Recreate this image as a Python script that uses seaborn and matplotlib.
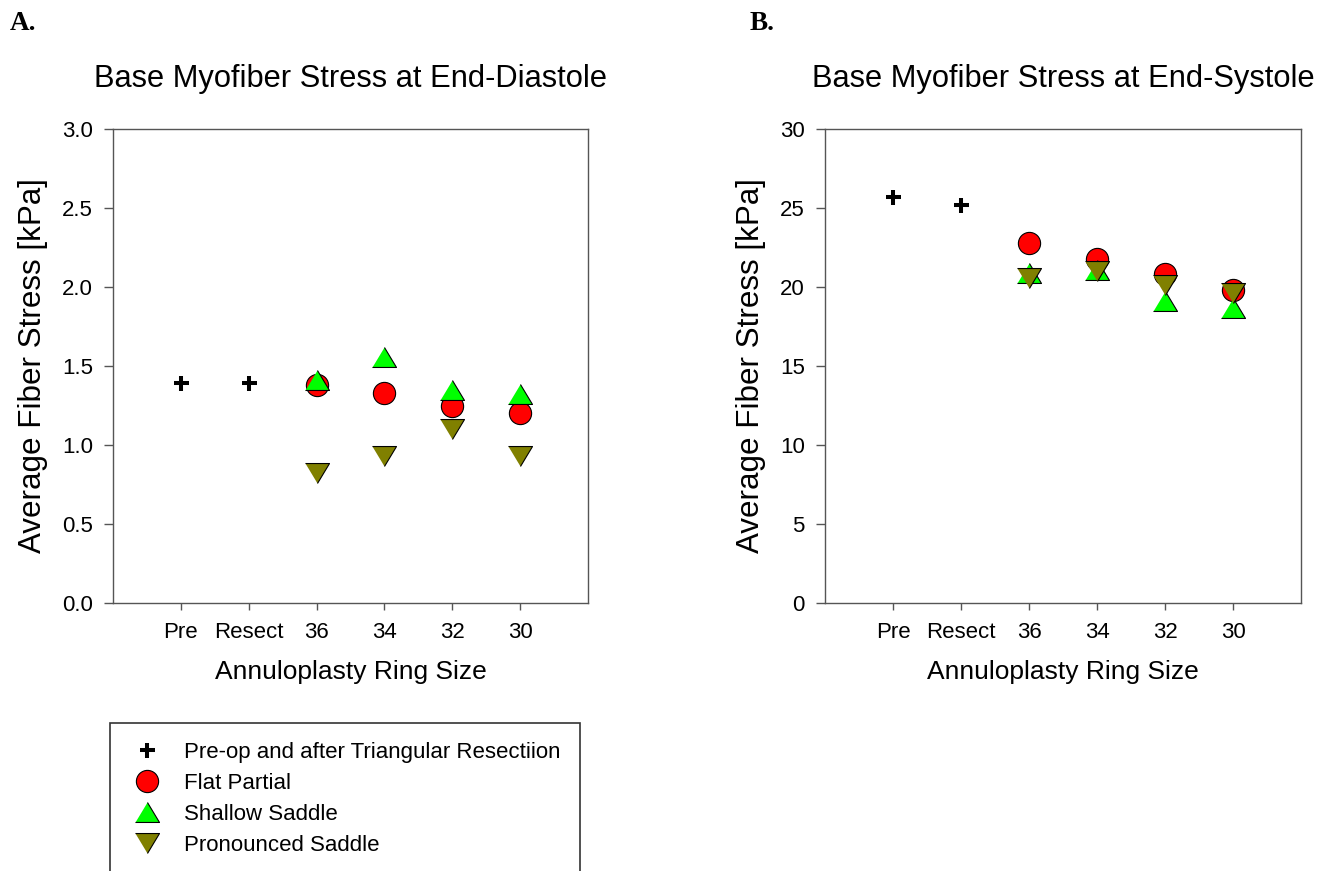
import matplotlib
matplotlib.use("Agg")
import matplotlib.pyplot as plt
import seaborn as sns
from matplotlib.lines import Line2D
from matplotlib.ticker import FormatStrFormatter

# Stages along the horizontal axis
categories = ["Pre", "Resect", "36", "34", "32", "30"]
baseline_cats = ["Pre", "Resect"]
ring_cats = ["36", "34", "32", "30"]

# Base myofiber stress at end-diastole [kPa]
ed_baseline = [1.39, 1.39]
ed_flat = [1.38, 1.33, 1.25, 1.20]
ed_shallow = [1.41, 1.56, 1.35, 1.32]
ed_pronounced = [0.82, 0.93, 1.10, 0.93]

# Base myofiber stress at end-systole [kPa]
es_baseline = [25.7, 25.2]
es_flat = [22.8, 21.8, 20.8, 19.8]
es_shallow = [20.9, 21.1, 19.1, 18.7]
es_pronounced = [20.6, 21.0, 20.1, 19.6]

series_labels = ["Pre-op and after Triangular Resectiion", "Flat Partial",
                 "Shallow Saddle", "Pronounced Saddle"]

sns.set_style("ticks")
plt.rcParams["font.family"] = ["Liberation Sans", "DejaVu Sans"]
plt.rcParams["text.color"] = "black"
plt.rcParams["axes.labelcolor"] = "black"
plt.rcParams["xtick.labelcolor"] = "black"
plt.rcParams["ytick.labelcolor"] = "black"

TRI_UP = [(-1, -0.83), (1, -0.83), (0, 0.83)]
TRI_DOWN = [(-1, 0.83), (1, 0.83), (0, -0.83)]
RED, GREEN, OLIVE = "#FF0000", "#00FF00", "#808000"
AXIS_GRAY = "#555555"

PLUS_SIZE, PLUS_LW = 10.8, 2.9
CIRCLE_SIZE = 16.0
TRI_SIZE = 17.3


def draw_panel(ax, baseline, flat, shallow, pronounced, ymax, ystep, yfmt, title):
    ax.xaxis.update_units(categories)
    sns.scatterplot(x=baseline_cats, y=baseline, marker="+", s=PLUS_SIZE ** 2,
                    color="black", linewidth=PLUS_LW, ax=ax, zorder=3)
    sns.scatterplot(x=ring_cats, y=flat, marker="o", s=CIRCLE_SIZE ** 2,
                    color=RED, edgecolor="black", linewidth=0.8, ax=ax, zorder=3)
    sns.scatterplot(x=ring_cats, y=shallow, marker=TRI_UP, s=TRI_SIZE ** 2,
                    color=GREEN, edgecolor="black", linewidth=0.8, ax=ax, zorder=3)
    sns.scatterplot(x=ring_cats, y=pronounced, marker=TRI_DOWN, s=TRI_SIZE ** 2,
                    color=OLIVE, edgecolor="black", linewidth=0.8, ax=ax, zorder=3)

    ax.set_xlim(-1, len(categories))
    ax.set_ylim(0, ymax)
    ax.set_yticks([i * ystep for i in range(int(round(ymax / ystep)) + 1)])
    ax.yaxis.set_major_formatter(FormatStrFormatter(yfmt))

    for side in ["top", "right", "left", "bottom"]:
        ax.spines[side].set_visible(True)
        ax.spines[side].set_color(AXIS_GRAY)
        ax.spines[side].set_linewidth(1.0)
    ax.tick_params(axis="y", direction="out", length=6.5, width=1.0,
                   color=AXIS_GRAY, labelsize=16, pad=8, labelcolor="black")
    ax.tick_params(axis="x", direction="out", length=5, width=1.0,
                   color=AXIS_GRAY, labelsize=16, pad=9, labelcolor="black")

    ax.set_xlabel("Annuloplasty Ring Size", fontsize=19, labelpad=12, color="black")
    ax.set_ylabel("Average Fiber Stress [kPa]", fontsize=22.6, labelpad=10, color="black")
    ax.set_title(title, fontsize=22.2, pad=30, color="black")


fig = plt.figure(figsize=(13.36, 8.71), dpi=100)
W, H = 1336, 871
ax_a = fig.add_axes([113 / W, 1 - 603 / H, 475 / W, 474 / H])
ax_b = fig.add_axes([825 / W, 1 - 603 / H, 476 / W, 474 / H])

draw_panel(ax_a, ed_baseline, ed_flat, ed_shallow, ed_pronounced,
           3.0, 0.5, "%.1f", "Base Myofiber Stress at End-Diastole")
draw_panel(ax_b, es_baseline, es_flat, es_shallow, es_pronounced,
           30, 5, "%d", "Base Myofiber Stress at End-Systole")

for ax in (ax_a, ax_b):
    leg = ax.get_legend()
    if leg is not None:
        leg.remove()

fig.text(10 / W, 1 - 11 / H, "A.", family="Liberation Serif", weight="bold",
         fontsize=19.5, va="top", ha="left", color="black")
fig.text(750 / W, 1 - 11 / H, "B.", family="Liberation Serif", weight="bold",
         fontsize=19.5, va="top", ha="left", color="black")

handles = [
    Line2D([], [], linestyle="", marker="+", markersize=PLUS_SIZE,
           markeredgewidth=PLUS_LW, color="black"),
    Line2D([], [], linestyle="", marker="o", markersize=CIRCLE_SIZE,
           markerfacecolor=RED, markeredgecolor="black", markeredgewidth=0.8),
    Line2D([], [], linestyle="", marker=TRI_UP, markersize=TRI_SIZE,
           markerfacecolor=GREEN, markeredgecolor="black", markeredgewidth=0.8),
    Line2D([], [], linestyle="", marker=TRI_DOWN, markersize=TRI_SIZE,
           markerfacecolor=OLIVE, markeredgecolor="black", markeredgewidth=0.8),
]
legend = fig.legend(handles, series_labels, loc="upper left",
                    bbox_to_anchor=(110 / W, 1 - 723 / H, 470 / W, 0),
                    mode="expand", borderaxespad=0, fontsize=16,
                    borderpad=0.85, labelspacing=0.45, handlelength=1.6,
                    handletextpad=0.88, fancybox=False, framealpha=1,
                    edgecolor="#333333")
legend.get_frame().set_linewidth(1.2)

fig.savefig("out.png", dpi=100)
